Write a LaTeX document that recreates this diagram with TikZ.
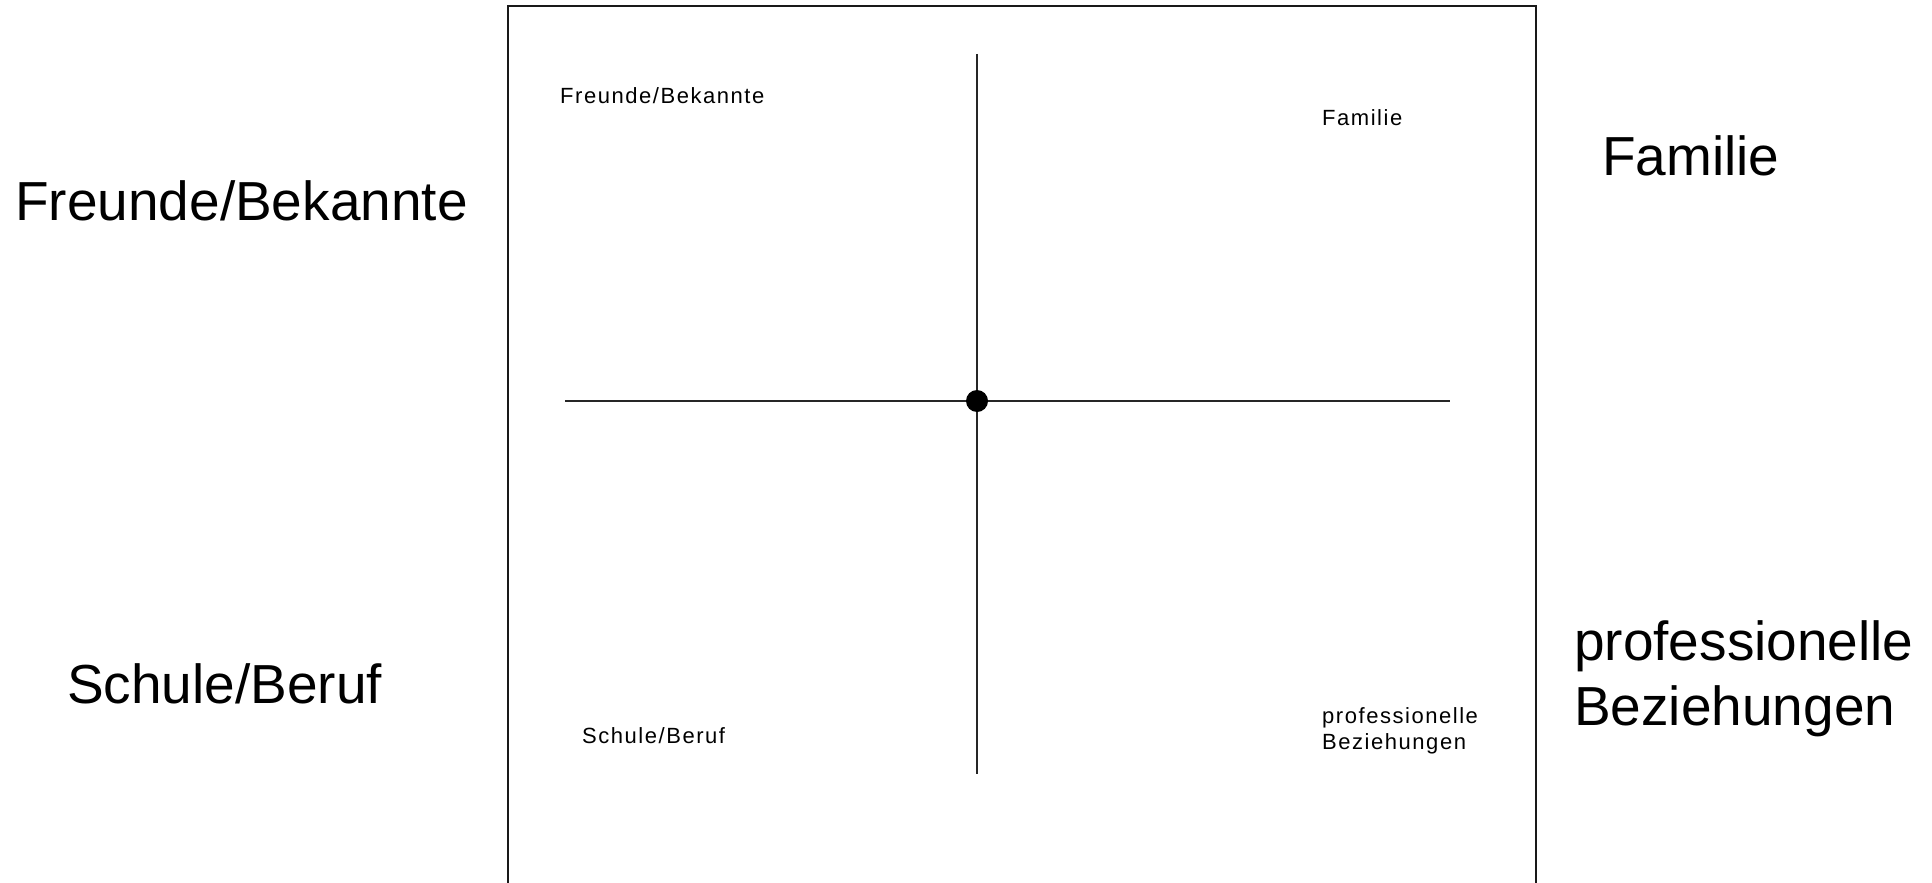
\documentclass[tikz,border=0pt]{standalone}
\usepackage{fontspec}
\setmainfont{Liberation Sans}
\newfontfamily\smallfont[LetterSpace=7]{Liberation Sans}
\tikzset{
  big/.style={anchor=base west,inner sep=0pt,font=\fontsize{55}{65}\selectfont,align=left},
  small/.style={anchor=base west,inner sep=0pt,font=\smallfont\fontsize{22}{26}\selectfont,align=left},
  axis/.style={line width=2pt,black!85},
  frame/.style={line width=2.2pt,black!90},
  dotnode/.style={circle,fill=black,inner sep=0pt,minimum size=22pt}
}
\begin{document}
\begin{tikzpicture}[x=1pt,y=-1pt]
\useasboundingbox (0,0) rectangle (1932,883);
\draw[frame] (508,890) -- (508,6) -- (1536,6) -- (1536,890);
\coordinate (hl) at (565,401);
\coordinate (hr) at (1450,401);
\coordinate (vt) at (977,54);
\coordinate (vb) at (977,774);
\draw[axis] (hl) -- (hr);
\draw[axis] (vt) -- (vb);
\node[dotnode] (c) at (977,401) {};
% inner labels
\node[small] (ifb) at (560,103) {Freunde/Bekannte};
\node[small] (ifam) at (1322,125) {Familie};
\node[small] (isb) at (582,743) {Schule/Beruf};
\node[small] (ipb) at (1322,749) {professionelle\\Beziehungen};
% outer labels
\node[big] (ofb) at (15,220) {Freunde/Bekannte};
\node[big] (ofam) at (1602,175) {Familie};
\node[big] (osb) at (67,703) {Schule/Beruf};
\node[big] (opb) at (1574,725) {professionelle\\Beziehungen};
\end{tikzpicture}
\end{document}
